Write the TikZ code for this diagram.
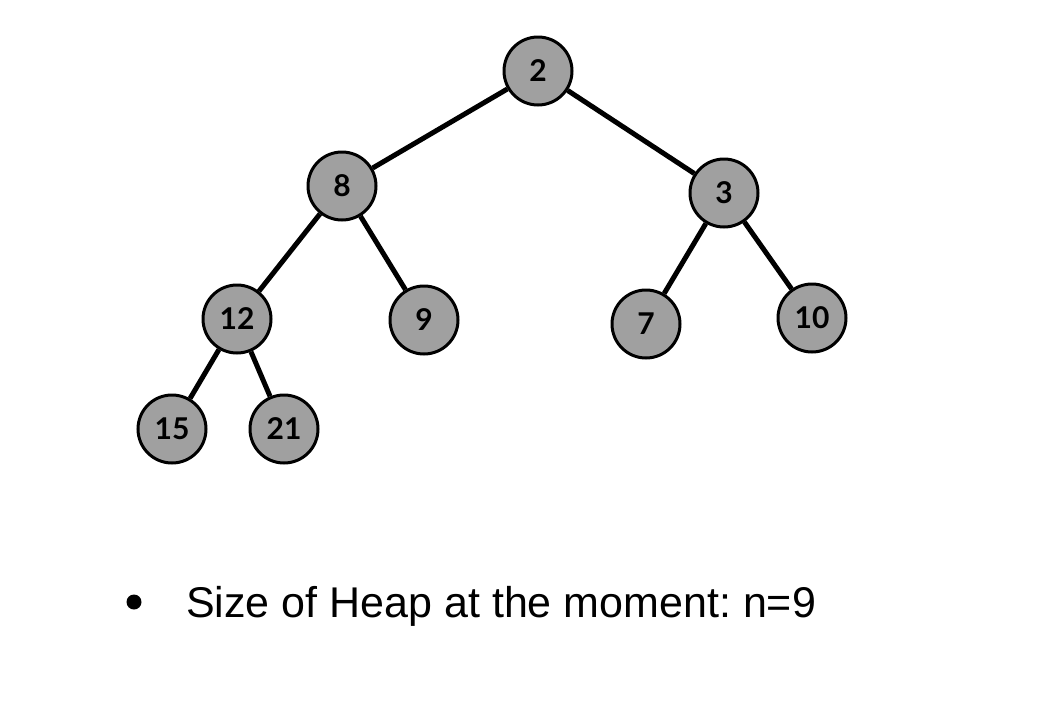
\documentclass[tikz,border=0pt]{standalone}
\usepackage{fontspec}
\setmainfont{Liberation Sans}
\newfontfamily\numfont{Lato}
\definecolor{heapgray}{RGB}{160,160,160}
\tikzset{
  heapnode/.style={circle, draw=black, line width=3pt, fill=heapgray, minimum size=68pt, inner sep=0pt, font=\numfont\bfseries\fontsize{30}{30}\selectfont},
  heapedge/.style={line width=5pt, draw=black}
}
\begin{document}
\begin{tikzpicture}[x=1pt,y=-1pt]
\useasboundingbox (0,0) rectangle (1058,710);
\node[heapnode] (n2) at (538,71) {2};
\node[heapnode] (n8) at (342,186) {8};
\node[heapnode] (n3) at (724,193) {3};
\node[heapnode] (n12) at (237,319) {12};
\node[heapnode] (n9) at (424,320) {9};
\node[heapnode] (n7) at (646,324) {7};
\node[heapnode] (n10) at (812,318) {10};
\node[heapnode] (n15) at (172,429) {15};
\node[heapnode] (n21) at (284,429) {21};
\draw[heapedge] (n2) -- (n8);
\draw[heapedge] (n2) -- (n3);
\draw[heapedge] (n8) -- (n12);
\draw[heapedge] (n8) -- (n9);
\draw[heapedge] (n3) -- (n7);
\draw[heapedge] (n3) -- (n10);
\draw[heapedge] (n12) -- (n15);
\draw[heapedge] (n12) -- (n21);
\node[circle, fill=black, minimum size=15pt, inner sep=0pt] (bullet) at (134,602) {};
\node[anchor=base west, inner sep=0pt, font=\fontsize{43}{43}\selectfont] (caption) at (186,617) {\frenchspacing Size of Heap at the moment: n=9};
\end{tikzpicture}
\end{document}
